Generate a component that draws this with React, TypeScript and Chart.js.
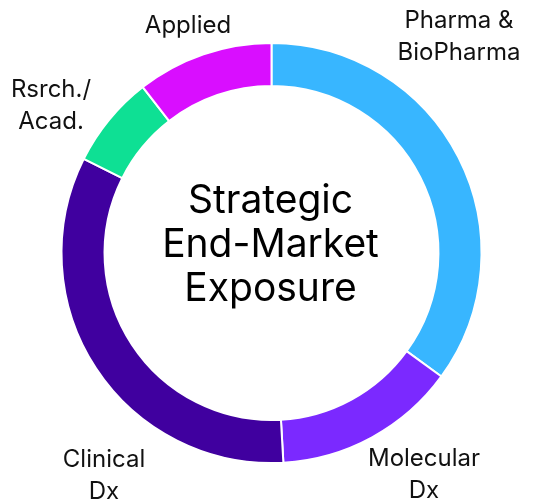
import React, { useEffect, useRef } from "react";
import { Chart, registerables } from "chart.js";

Chart.register(...registerables);

const categories = ["Pharma & BioPharma", "Molecular Dx", "Clinical Dx", "Rsrch./ Acad.", "Applied"];
const shares = [35.0, 14.1, 33.3, 7.1, 10.5];
const colors = ["#38B6FF", "#7B29FF", "#40009F", "#0EE094", "#D90EFF"];

const labelLines = [["Pharma &", "BioPharma"], ["Molecular", "Dx"], ["Clinical", "Dx"], ["Rsrch./", "Acad."], ["Applied"]];
// label anchor (center x, first baseline y)
const labelAnchors = [[459, 28], [424, 466], [104, 467], [51, 97], [188, 33]];
const centerLines = ["Strategic", "End-Market", "Exposure"];

const FONT = "Inter, 'Noto Sans', sans-serif";

const labelPlugin = {
  id: "outerLabels",
  afterDraw(chart: any) {
    const ctx = chart.ctx;
    ctx.save();
    ctx.fillStyle = "#111111";
    ctx.textAlign = "center";
    ctx.textBaseline = "alphabetic";
    ctx.font = `400 24px ${FONT}`;
    labelLines.forEach((lines, i) => {
      const [x, y] = labelAnchors[i];
      lines.forEach((t, j) => ctx.fillText(t, x, y + j * 32));
    });
    const meta = chart.getDatasetMeta(0);
    const arc = meta.data[0];
    const cx = arc.x;
    const cy = arc.y;
    ctx.fillStyle = "#000000";
    ctx.font = `400 39px ${FONT}`;
    centerLines.forEach((t, j) => ctx.fillText(t, cx - 1, cy - 40 + j * 44));
    ctx.restore();
  },
};

export default function App() {
  const ref = useRef<HTMLCanvasElement>(null);
  useEffect(() => {
    if (!ref.current) return;
    const chart = new Chart(ref.current, {
      type: "doughnut",
      data: {
        labels: categories,
        datasets: [
          {
            data: shares,
            backgroundColor: colors,
            borderColor: "#ffffff",
            borderWidth: 2,
            hoverOffset: 0,
            offset: 0,
          },
        ],
      },
      options: {
        responsive: false,
        animation: false,
        cutout: "79.5%",
        layout: { padding: { top: 42, bottom: 40, left: 60, right: 50 } },
        plugins: { legend: { display: false }, tooltip: { enabled: false } },
      },
      plugins: [labelPlugin],
    });
    return () => chart.destroy();
  }, []);
  return (
    <div style={{ position: "fixed", left: 0, top: 0, width: 533, height: 504, background: "#fff" }}>
      <canvas ref={ref} width={533} height={504} style={{ display: "block" }} />
    </div>
  );
}
